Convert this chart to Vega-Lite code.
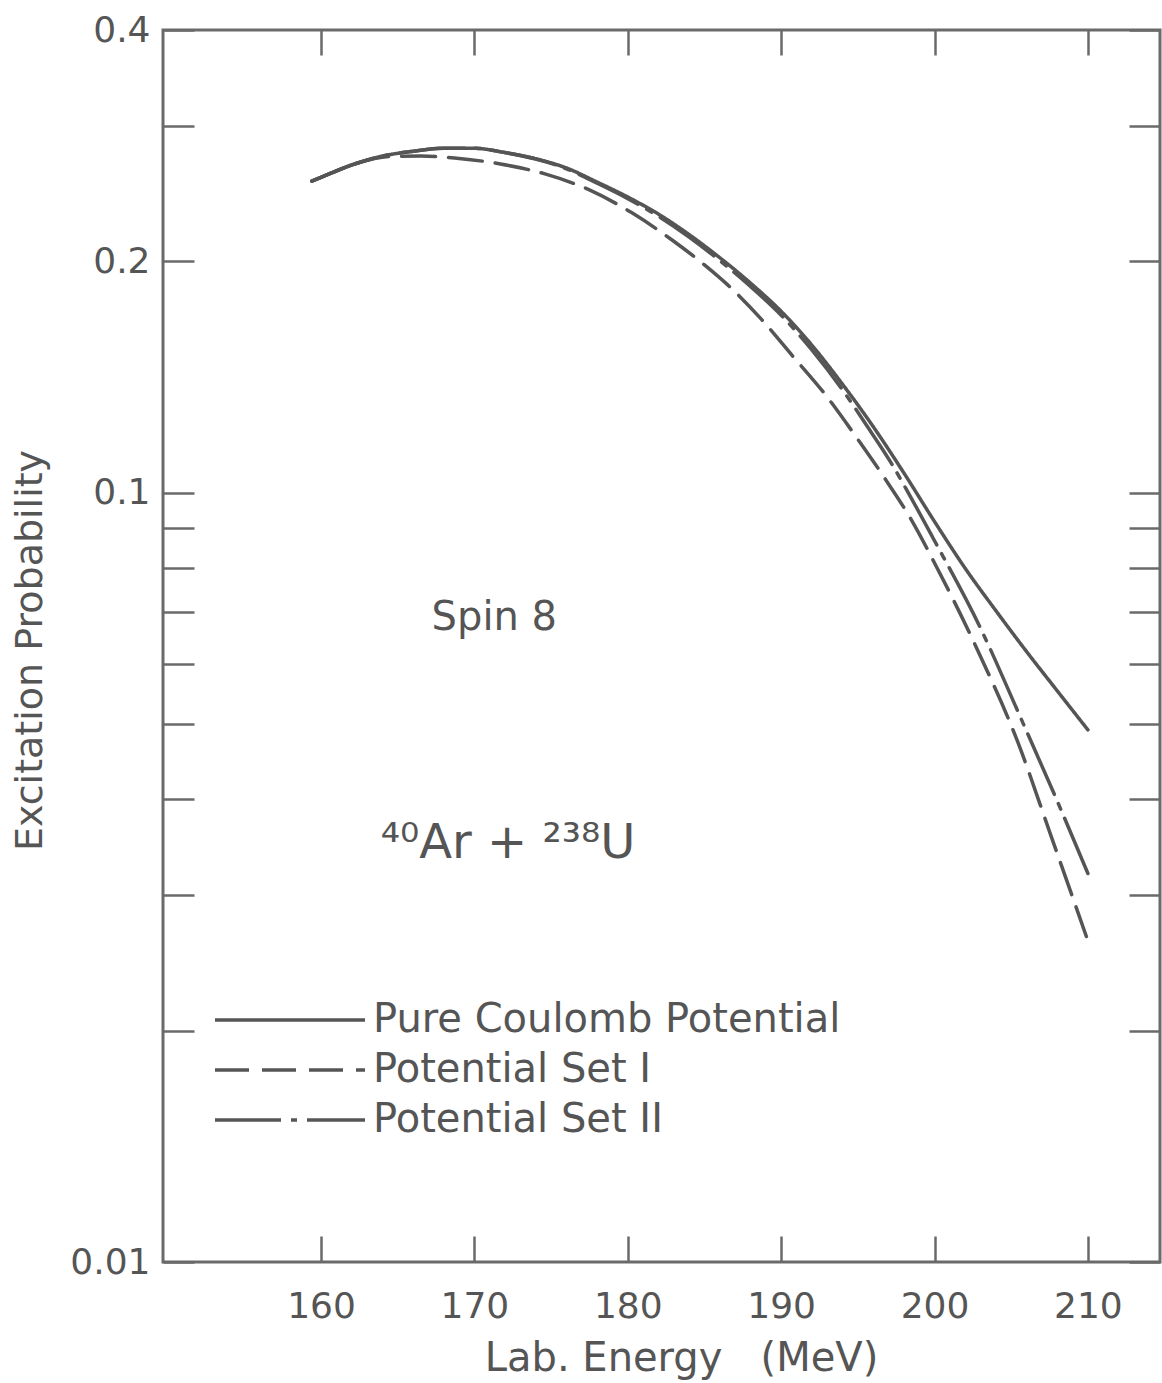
{
  "$schema": "https://vega.github.io/schema/vega-lite/v6.json",
  "width": 997,
  "height": 1232,
  "autosize": {"type": "none"},
  "padding": {"left": 163, "top": 30, "right": 2, "bottom": 121},
  "background": "white",
  "config": {
    "view": {"stroke": "#6a6a6a", "strokeWidth": 3},
    "font": "DejaVu Sans",
    "axis": {
      "domain": false,
      "grid": false,
      "labelFont": "DejaVu Sans",
      "titleFont": "DejaVu Sans",
      "labelColor": "#555555",
      "titleColor": "#555555",
      "tickColor": "#6a6a6a",
      "tickWidth": 2.5,
      "titleFontWeight": "normal",
      "labelOverlap": false
    },
    "legend": {
      "orient": "none",
      "legendX": 50,
      "legendY": 965,
      "padding": 0,
      "rowPadding": 0,
      "symbolType": "stroke",
      "symbolSize": 22500,
      "symbolStrokeWidth": 3.5,
      "symbolStrokeColor": "#555555",
      "labelFont": "DejaVu Sans",
      "labelFontSize": 40,
      "labelColor": "#555555",
      "labelOffset": 6,
      "labelLimit": 0,
      "clipHeight": 50
    }
  },
  "layer": [
    {
      "data": {
        "values": [
          {"E": 159.4, "P": 0.2544, "series": "Pure Coulomb Potential"},
          {"E": 160, "P": 0.2573, "series": "Pure Coulomb Potential"},
          {"E": 162, "P": 0.2670, "series": "Pure Coulomb Potential"},
          {"E": 164, "P": 0.2742, "series": "Pure Coulomb Potential"},
          {"E": 166, "P": 0.2782, "series": "Pure Coulomb Potential"},
          {"E": 168, "P": 0.2808, "series": "Pure Coulomb Potential"},
          {"E": 170, "P": 0.2807, "series": "Pure Coulomb Potential"},
          {"E": 172, "P": 0.2771, "series": "Pure Coulomb Potential"},
          {"E": 174, "P": 0.2720, "series": "Pure Coulomb Potential"},
          {"E": 176, "P": 0.2646, "series": "Pure Coulomb Potential"},
          {"E": 178, "P": 0.2537, "series": "Pure Coulomb Potential"},
          {"E": 180, "P": 0.2426, "series": "Pure Coulomb Potential"},
          {"E": 182, "P": 0.2305, "series": "Pure Coulomb Potential"},
          {"E": 184, "P": 0.2168, "series": "Pure Coulomb Potential"},
          {"E": 186, "P": 0.2023, "series": "Pure Coulomb Potential"},
          {"E": 188, "P": 0.1875, "series": "Pure Coulomb Potential"},
          {"E": 190, "P": 0.1723, "series": "Pure Coulomb Potential"},
          {"E": 192, "P": 0.1557, "series": "Pure Coulomb Potential"},
          {"E": 194, "P": 0.1385, "series": "Pure Coulomb Potential"},
          {"E": 196, "P": 0.1220, "series": "Pure Coulomb Potential"},
          {"E": 198, "P": 0.1062, "series": "Pure Coulomb Potential"},
          {"E": 200, "P": 0.0918, "series": "Pure Coulomb Potential"},
          {"E": 202, "P": 0.0798, "series": "Pure Coulomb Potential"},
          {"E": 204, "P": 0.0703, "series": "Pure Coulomb Potential"},
          {"E": 206, "P": 0.0622, "series": "Pure Coulomb Potential"},
          {"E": 208, "P": 0.0553, "series": "Pure Coulomb Potential"},
          {"E": 210, "P": 0.0492, "series": "Pure Coulomb Potential"},

          {"E": 159.4, "P": 0.2544, "series": "Potential Set I"},
          {"E": 160, "P": 0.2573, "series": "Potential Set I"},
          {"E": 162, "P": 0.2670, "series": "Potential Set I"},
          {"E": 164.5, "P": 0.2740, "series": "Potential Set I"},
          {"E": 166.5, "P": 0.2742, "series": "Potential Set I"},
          {"E": 168.7, "P": 0.2727, "series": "Potential Set I"},
          {"E": 171.7, "P": 0.2678, "series": "Potential Set I"},
          {"E": 174.6, "P": 0.2600, "series": "Potential Set I"},
          {"E": 177.5, "P": 0.2478, "series": "Potential Set I"},
          {"E": 180.3, "P": 0.2312, "series": "Potential Set I"},
          {"E": 183, "P": 0.2125, "series": "Potential Set I"},
          {"E": 185, "P": 0.1980, "series": "Potential Set I"},
          {"E": 186.5, "P": 0.1866, "series": "Potential Set I"},
          {"E": 188.75, "P": 0.1679, "series": "Potential Set I"},
          {"E": 190.7, "P": 0.1511, "series": "Potential Set I"},
          {"E": 193, "P": 0.1333, "series": "Potential Set I"},
          {"E": 194.9, "P": 0.1182, "series": "Potential Set I"},
          {"E": 196.7, "P": 0.1049, "series": "Potential Set I"},
          {"E": 198.5, "P": 0.0922, "series": "Potential Set I"},
          {"E": 200, "P": 0.0811, "series": "Potential Set I"},
          {"E": 202.9, "P": 0.0619, "series": "Potential Set I"},
          {"E": 205.4, "P": 0.0476, "series": "Potential Set I"},
          {"E": 207.6, "P": 0.0358, "series": "Potential Set I"},
          {"E": 209.9, "P": 0.0265, "series": "Potential Set I"},

          {"E": 159.4, "P": 0.2544, "series": "Potential Set II"},
          {"E": 160, "P": 0.2573, "series": "Potential Set II"},
          {"E": 162, "P": 0.2670, "series": "Potential Set II"},
          {"E": 164, "P": 0.2742, "series": "Potential Set II"},
          {"E": 166, "P": 0.2782, "series": "Potential Set II"},
          {"E": 168, "P": 0.2808, "series": "Potential Set II"},
          {"E": 170, "P": 0.2807, "series": "Potential Set II"},
          {"E": 172, "P": 0.2771, "series": "Potential Set II"},
          {"E": 174, "P": 0.2718, "series": "Potential Set II"},
          {"E": 176, "P": 0.2640, "series": "Potential Set II"},
          {"E": 178, "P": 0.2528, "series": "Potential Set II"},
          {"E": 180, "P": 0.2414, "series": "Potential Set II"},
          {"E": 182, "P": 0.2290, "series": "Potential Set II"},
          {"E": 184, "P": 0.2152, "series": "Potential Set II"},
          {"E": 186, "P": 0.2005, "series": "Potential Set II"},
          {"E": 188, "P": 0.1856, "series": "Potential Set II"},
          {"E": 190, "P": 0.1703, "series": "Potential Set II"},
          {"E": 192, "P": 0.1535, "series": "Potential Set II"},
          {"E": 194, "P": 0.1362, "series": "Potential Set II"},
          {"E": 195.6, "P": 0.1222, "series": "Potential Set II"},
          {"E": 197.1, "P": 0.1100, "series": "Potential Set II"},
          {"E": 198.2, "P": 0.1008, "series": "Potential Set II"},
          {"E": 199.9, "P": 0.0874, "series": "Potential Set II"},
          {"E": 203, "P": 0.0667, "series": "Potential Set II"},
          {"E": 205.6, "P": 0.0511, "series": "Potential Set II"},
          {"E": 208.3, "P": 0.0385, "series": "Potential Set II"},
          {"E": 210, "P": 0.0320, "series": "Potential Set II"}
        ]
      },
      "mark": {"type": "line", "color": "#555555", "strokeWidth": 3.5, "interpolate": "monotone", "strokeCap": "round"},
      "encoding": {
        "x": {
          "field": "E",
          "type": "quantitative",
          "scale": {"domain": [149.7, 214.7], "nice": false, "zero": false},
          "axis": {
            "orient": "bottom",
            "values": [160, 170, 180, 190, 200, 210],
            "tickSize": -26,
            "labelFontSize": 36,
            "labelPadding": 53,
            "title": "Lab. Energy\u00a0\u00a0\u00a0(MeV)",
            "titleFontSize": 40,
            "titleX": 518,
            "titleY": 96,
            "titleBaseline": "middle",
            "titleAlign": "center"
          }
        },
        "y": {
          "field": "P",
          "type": "quantitative",
          "scale": {"type": "log", "domain": [0.01, 0.4], "nice": false},
          "axis": {
            "orient": "left",
            "values": [0.4, 0.3, 0.2, 0.1, 0.09, 0.08, 0.07, 0.06, 0.05, 0.04, 0.03, 0.02, 0.01],
            "format": "~g",
            "labelExpr": "indexof([0.4, 0.2, 0.1, 0.01], datum.value) >= 0 ? datum.label : ''",
            "tickSize": -31,
            "labelFontSize": 36,
            "labelPadding": 44,
            "labelBaseline": "middle",
            "title": "Excitation Probability",
            "titleFontSize": 38,
            "titleAngle": 270,
            "titleX": -133,
            "titleY": 620,
            "titleBaseline": "middle",
            "titleAlign": "center"
          }
        },
        "strokeDash": {
          "field": "series",
          "type": "nominal",
          "scale": {
            "domain": ["Pure Coulomb Potential", "Potential Set I", "Potential Set II"],
            "range": [[1, 0], [34, 13], [66, 10, 6, 10]]
          },
          "legend": {"title": null}
        }
      }
    },
    {
      "data": {"values": [{"label": "Spin 8"}]},
      "mark": {"type": "text", "fontSize": 40, "color": "#555555", "baseline": "alphabetic", "align": "center", "font": "DejaVu Sans"},
      "encoding": {
        "x": {
          "datum": 171.3,
          "type": "quantitative",
          "scale": {"domain": [149.7, 214.7], "nice": false, "zero": false},
          "axis": {"orient": "top", "values": [160, 170, 180, 190, 200, 210], "tickSize": -25, "labels": false, "title": null}
        },
        "y": {
          "datum": 0.0663,
          "type": "quantitative",
          "scale": {"type": "log", "domain": [0.01, 0.4], "nice": false},
          "axis": {"orient": "right", "values": [0.4, 0.3, 0.2, 0.1, 0.09, 0.08, 0.07, 0.06, 0.05, 0.04, 0.03, 0.02, 0.01], "tickSize": -31, "labels": false, "title": null}
        },
        "text": {"field": "label"}
      }
    },
    {
      "data": {"values": [{"label": "⁴⁰Ar + ²³⁸U"}]},
      "mark": {"type": "text", "fontSize": 48, "color": "#555555", "baseline": "alphabetic", "align": "center", "font": "DejaVu Sans"},
      "encoding": {
        "x": {"datum": 172.2, "type": "quantitative", "axis": null},
        "y": {"datum": 0.0335, "type": "quantitative", "axis": null},
        "text": {"field": "label"}
      }
    }
  ],
  "resolve": {"axis": {"x": "independent", "y": "independent"}}
}
